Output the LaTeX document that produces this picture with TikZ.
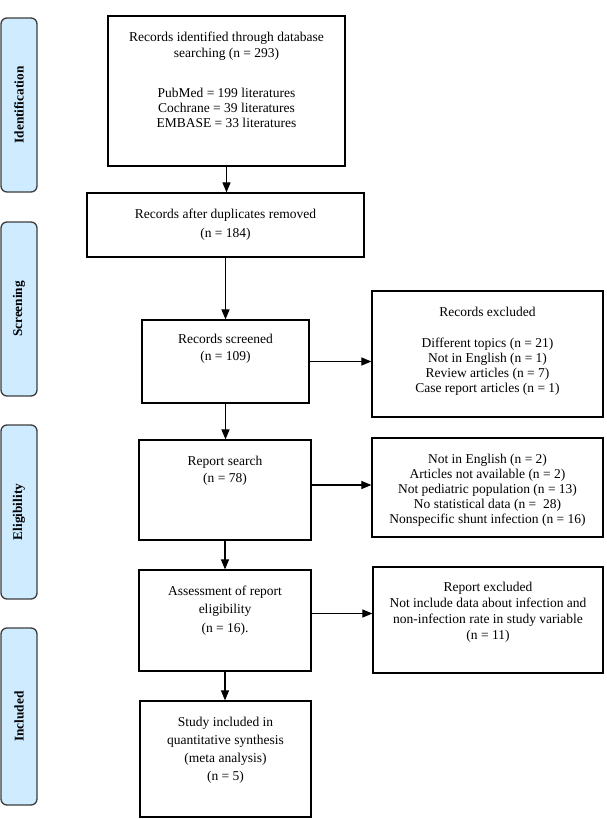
\documentclass[tikz,border=0pt]{standalone}
\usepackage{fontspec}
\setmainfont{Liberation Serif}
\usetikzlibrary{arrows.meta}
\definecolor{barfill}{RGB}{206,235,255}
\definecolor{barline}{RGB}{60,60,60}
\begin{document}
\begin{tikzpicture}[x=1pt,y=-1pt,
  phase/.style={draw=barline, fill=barfill, line width=1.3pt, rounded corners=6pt,
    minimum height=36pt, rotate=90, inner sep=0pt,
    font=\fontsize{13.3}{15}\selectfont\bfseries},
  box/.style={draw=black, line width=1.2pt, inner sep=0pt},
  txt/.style={align=center, inner sep=0pt, font=\fontsize{13.5}{#1}\selectfont},
  txt/.default=16,
  arr/.style={line width=1.1pt, -{Triangle[length=10pt,width=8pt]}}]
\useasboundingbox (0,0) rectangle (606,819);

% phase bars
\node[phase, minimum width=174pt] (pid) at (19,105) {Identification};
\node[phase, minimum width=174pt] (psc) at (19,309) {Screening};
\node[phase, minimum width=174pt] (pel) at (19,512) {Eligibility};
\node[phase, minimum width=177pt] (pin) at (19,716.5) {Included};

% main boxes
\node[box, minimum width=237pt, minimum height=150pt] (b1) at (226.5,91) {};
\node[box, minimum width=277pt, minimum height=64pt] (b2) at (225.5,225) {};
\node[box, minimum width=167pt, minimum height=83pt] (b3) at (225.5,361.5) {};
\node[box, minimum width=172pt, minimum height=100pt] (b4) at (225,490) {};
\node[box, minimum width=172pt, minimum height=101pt] (b5) at (225,620.5) {};
\node[box, minimum width=171pt, minimum height=116pt] (b6) at (225.5,759) {};
% right boxes
\node[box, minimum width=231pt, minimum height=126pt] (r1) at (487.5,354) {};
\node[box, minimum width=231pt, minimum height=99pt] (r2) at (487.5,487.5) {};
\node[box, minimum width=230pt, minimum height=106pt] (r3) at (488,620) {};

% texts
\node[txt=16] (t1a) at (226.5,46) {Records identified through database\\searching (n = 293)};
\node[txt=15] (t1b) at (226.5,108) {PubMed = 199 literatures\\Cochrane = 39 literatures\\EMBASE = 33 literatures};
\node[txt=19] (t2) at (225.5,224.5) {Records after duplicates removed\\(n = 184)};
\node[txt=17] (t3) at (225.5,348.5) {Records screened\\(n = 109)};
\node[txt=17] (t4) at (225,470.5) {Report search\\(n = 78)};
\node[txt=18.5] (t5) at (225,610.5) {Assessment of report\\eligibility\\(n = 16).};
\node[txt=18] (t6) at (225.5,750) {Study included in\\quantitative synthesis\\(meta analysis)\\(n = 5)};
\node[txt] (t7a) at (487.5,312) {Records excluded};
\node[txt=15] (t7b) at (487.5,366.5) {Different topics (n = 21)\\Not in English (n = 1)\\Review articles (n = 7)\\Case report articles (n = 1)};
\node[txt=15] (t8) at (487.5,490) {Not in English (n = 2)\\Articles not available (n = 2)\\Not pediatric population (n = 13)\\No statistical data (n = \ 28)\\Nonspecific shunt infection (n = 16)};
\node[txt=16] (t9) at (488,612) {Report excluded\\Not include data about infection and\\non-infection rate in study variable\\(n = 11)};

% vertical arrows
\draw[arr] (b1.south) -- (b1.south |- b2.north);
\draw[arr] (b2.south) -- (b2.south |- b3.north);
\draw[arr] (b3.south) -- (b3.south |- b4.north);
\draw[arr] (b4.south) -- (b4.south |- b5.north);
\draw[arr] (b5.south) -- (b5.south |- b6.north);
% horizontal arrows
\draw[arr] (b3.east) -- (b3.east -| r1.west);
\draw[arr] ([yshift=5pt]b4.east) -- ([yshift=5pt]b4.east -| r2.west);
\draw[arr] ([yshift=7pt]b5.east) -- ([yshift=7pt]b5.east -| r3.west);
\end{tikzpicture}
\end{document}
